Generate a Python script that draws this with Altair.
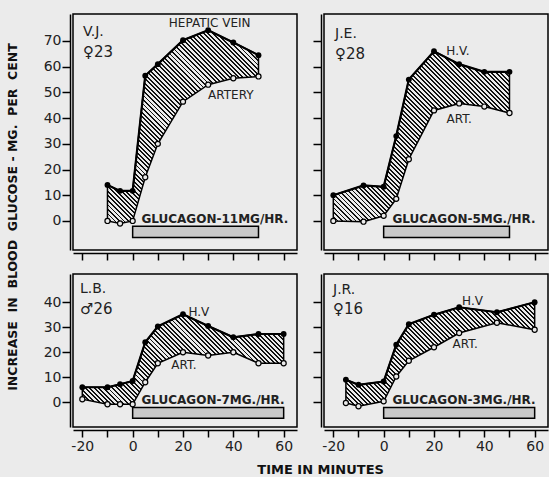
import math
import altair as alt
import pandas as pd

# ---------------- data ----------------
subjects = ["V.J.", "J.E.", "L.B.", "J.R."]
sex_age = ["\u264023", "\u264028", "\u264226", "\u264016"]
doses = ["GLUCAGON-11MG/HR.", "GLUCAGON-5MG./HR.", "GLUCAGON-7MG./HR.", "GLUCAGON-3MG./HR."]
infusion_end = [50, 50, 60, 60]

time_vj = [-10, -5, 0, 5, 10, 20, 30, 40, 50]
hv_vj = [14, 11.7, 11.7, 56.5, 61, 70.3, 74.2, 69.4, 64.5]
art_vj = [0, -1, 0, 17, 30, 46.4, 53, 55.5, 56.2]

time_je = [-20, -8, 0, 5, 10, 20, 30, 40, 50]
hv_je = [10, 13.8, 13.3, 33, 55, 66, 61, 58, 58]
art_je = [0, -0.3, 2, 8.6, 24, 43, 45.7, 44.5, 42]

time_lb = [-20, -10, -5, 0, 5, 10, 20, 30, 40, 50, 60]
hv_lb = [6, 6, 7.2, 8.5, 24, 30.3, 35.2, 30.5, 26, 27.3, 27.3]
art_lb = [1.2, -0.8, -0.8, -0.8, 8, 15.6, 20, 18.7, 20, 15.6, 15.6]

time_jr = [-15, -10, 0, 5, 10, 20, 30, 45, 60]
hv_jr = [9, 7, 8.3, 23, 31.2, 35, 38, 36, 40]
art_jr = [-0.3, -1.6, 0.4, 10.3, 16.6, 22, 27.7, 31.8, 29]

x_ticks = [-20, -10, 0, 10, 20, 30, 40, 50, 60]
y_ticks_top = [0, 10, 20, 30, 40, 50, 60, 70]
y_ticks_bottom = [0, 10, 20, 30, 40]

# ---------------- layout / style ----------------
PAPER = "#ebebeb"
FONT = "DejaVu Sans"
W = 224
H_TOP, H_BOT = 236, 153
X_DOM = [-23.7, 65.3]
Y_TOP = [-11.3, 80.5]
Y_BOT = [-9.9, 51.3]
NB = "\u00a0"


def hatch(time, hv, art, ydom, height, period=3.2, frac=0.42):
    px_x = W / (X_DOM[1] - X_DOM[0])
    px_y = height / (ydom[1] - ydom[0])
    w = (max(time) - min(time)) * px_x
    h = (max(hv + art) - min(hv + art)) * px_y
    n = max(1, round((w + h) / (math.sqrt(2) * period)))
    k = (w + h) / (w * w + h * h)
    stops = []
    for i in range(n):
        a, b, c = i / n, (i + frac) / n, (i + 1) / n
        stops += [
            {"offset": a, "color": "#111111"},
            {"offset": b, "color": "#111111"},
            {"offset": b, "color": PAPER},
            {"offset": c, "color": PAPER},
        ]
    return {"gradient": "linear", "x1": 0, "y1": 1, "x2": w * k, "y2": 1 - h * k, "stops": stops}


def xenc(field, labels):
    return alt.X(field, type="quantitative", title=None,
                 scale=alt.Scale(domain=X_DOM, nice=False, zero=False),
                 axis=alt.Axis(values=x_ticks, labels=labels, grid=False, offset=3,
                               tickSize=7, tickWidth=1.5, tickColor="black",
                               domainColor="black", domainWidth=1.5,
                               labelExpr="datum.value % 20 == 0 ? '' + datum.value : ''",
                               labelFont=FONT, labelFontSize=14, labelColor="#222",
                               labelPadding=2, labelFlush=False, labelOverlap=False))


def yenc(field, labels, ydom, ticks):
    return alt.Y(field, type="quantitative", title=None,
                 scale=alt.Scale(domain=ydom, nice=False, zero=False),
                 axis=alt.Axis(values=ticks, labels=labels, grid=False, offset=3,
                               tickSize=8, tickWidth=1.5, tickColor="black",
                               domainColor="black", domainWidth=1.5,
                               labelExpr="'' + datum.value",
                               labelFont=FONT, labelFontSize=14, labelColor="#222",
                               labelPadding=1, labelFlush=False, labelOverlap=False))


def panel(i, time, hv, art, ydom, height, yticks, xlab, ylab, curve_labels, corner_pos):
    df = pd.DataFrame({"t": time, "hv": hv, "art": art})
    X = xenc("t", xlab)
    Yh = yenc("hv", ylab, ydom, yticks)
    base = alt.Chart(df)
    area = base.mark_area(fill=hatch(time, hv, art, ydom, height), stroke="black",
                          strokeWidth=1.5, opacity=1).encode(x=X, y=Yh, y2="art:Q")
    hv_line = base.mark_line(color="black", strokeWidth=2.2).encode(x=X, y=Yh)
    hv_pts = base.mark_circle(color="black", size=34, opacity=1).encode(x=X, y=Yh)
    art_pts = base.mark_point(shape="circle", filled=True, fill=PAPER, stroke="black",
                              strokeWidth=1.2, size=26, opacity=1).encode(
        x=X, y=yenc("art", ylab, ydom, yticks))

    bar_df = pd.DataFrame({"t": [0], "t2": [infusion_end[i]], "v": [-2.1], "v2": [-6.4]})
    bar = alt.Chart(bar_df).mark_rect(fill="#c9c9c9", stroke="black", strokeWidth=1.5).encode(
        x=X, x2="t2:Q", y=yenc("v", ylab, ydom, yticks), y2="v2:Q")

    dose_df = pd.DataFrame({"t": [3.5], "v": [0.9], "s": [doses[i]]})
    dose = alt.Chart(dose_df).mark_text(align="left", baseline="middle", font=FONT,
                                        fontSize=12, fontWeight="bold", color="#222").encode(
        x=X, y=yenc("v", ylab, ydom, yticks), text="s:N")

    cl_df = pd.DataFrame({"t": [c[1] for c in curve_labels], "v": [c[2] for c in curve_labels],
                          "s": [c[0] for c in curve_labels]})
    cl = alt.Chart(cl_df).mark_text(align="center", baseline="middle", font=FONT,
                                    fontSize=12, color="#222").encode(
        x=X, y=yenc("v", ylab, ydom, yticks), text="s:N")

    cx, cy1, cy2 = corner_pos
    who = alt.Chart(pd.DataFrame({"s": [subjects[i]]})).mark_text(
        align="left", baseline="middle", font=FONT, fontSize=14, color="#222").encode(
        x=alt.value(cx), y=alt.value(cy1), text="s:N")
    sa = alt.Chart(pd.DataFrame({"s": [sex_age[i]]})).mark_text(
        align="left", baseline="middle", font=FONT, fontSize=15, color="#222").encode(
        x=alt.value(cx), y=alt.value(cy2), text="s:N")

    return alt.layer(area, hv_line, hv_pts, art_pts, bar, dose, cl, who, sa).properties(
        width=W, height=height)


p1 = panel(0, time_vj, hv_vj, art_vj, Y_TOP, H_TOP, y_ticks_top, False, True,
           [("HEPATIC VEIN", 30.6, 77), ("ARTERY", 39, 49)], (10, 18, 38))
p2 = panel(1, time_je, hv_je, art_je, Y_TOP, H_TOP, y_ticks_top, False, False,
           [("H.V.", 29.5, 66), ("ART.", 30, 39.7)], (11, 20, 40))
p3 = panel(2, time_lb, hv_lb, art_lb, Y_BOT, H_BOT, y_ticks_bottom, True, True,
           [("H.V", 26.3, 36.2), ("ART.", 20.4, 15)], (7, 15, 35))
p4 = panel(3, time_jr, hv_jr, art_jr, Y_BOT, H_BOT, y_ticks_bottom, True, False,
           [("H.V", 35.3, 40.6), ("ART.", 32.4, 23.5)], (9, 16, 35))

y_title = (NB * 2).join(["INCREASE", "IN", "BLOOD", "GLUCOSE" + NB + "-" + NB + "MG.", "PER", "CENT"])

grid = alt.vconcat(
    alt.hconcat(p1, p2, spacing=13),
    alt.hconcat(p3, p4, spacing=13),
    spacing=11,
    title=alt.TitleParams("TIME IN MINUTES", orient="bottom", anchor="middle", font=FONT,
                          fontSize=13, fontWeight="bold", color="#111", offset=10, dx=25),
)

chart = alt.hconcat(
    grid,
    title=alt.TitleParams(y_title, orient="left", anchor="middle", font=FONT, fontSize=12.5,
                          fontWeight="bold", color="#111", offset=23, dx=28),
).properties(
    background=PAPER,
    padding={"left": 6, "top": 13, "right": 0, "bottom": 0},
).configure_view(stroke="black", strokeWidth=1.5, fill=None)

chart.save("out.html", embed_options={"renderer": "svg", "actions": False})
